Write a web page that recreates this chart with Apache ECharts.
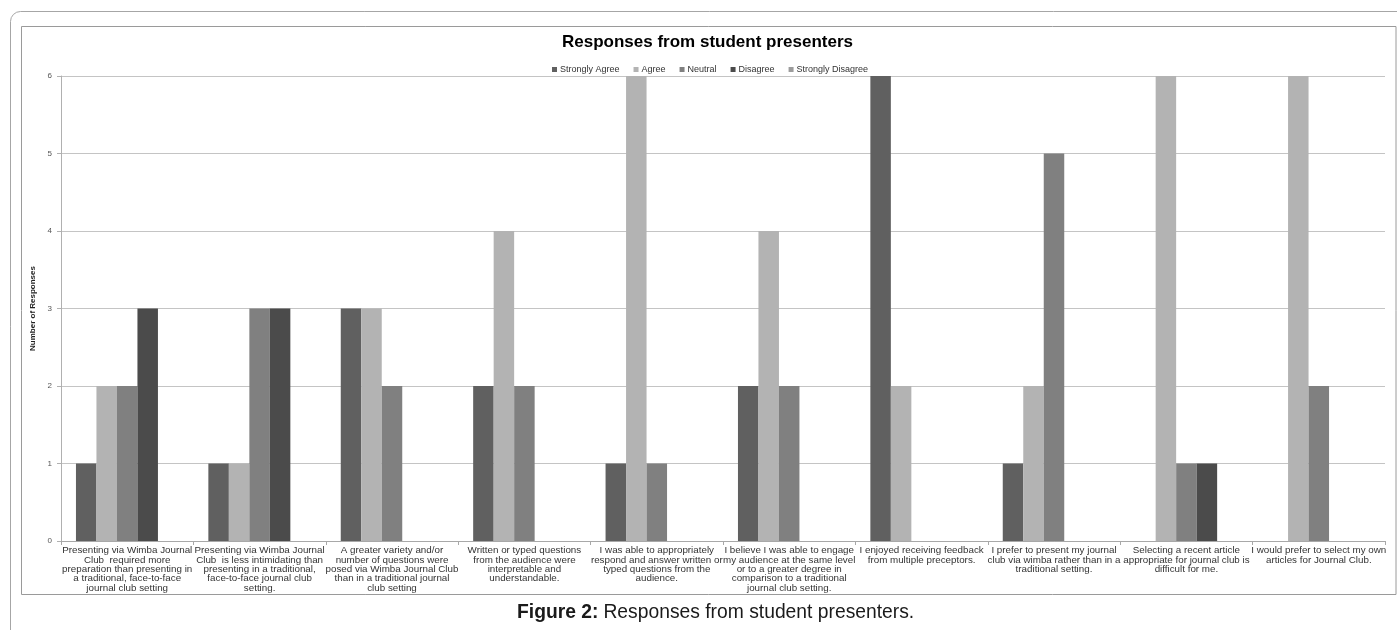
<!DOCTYPE html>
<html>
<head>
<meta charset="utf-8">
<title>Responses from student presenters</title>
<script src="https://cdn.jsdelivr.net/npm/echarts@6/dist/echarts.min.js"></script>
<style>
  html, body { margin: 0; padding: 0; background: #ffffff; }
  #chart { width: 1397px; height: 630px; }
</style>
</head>
<body>
<div id="chart"></div>
<script>
// Survey statements (x-axis categories)
var statements = [
  'Presenting via Wimba Journal\nClub  required more\npreparation than presenting in\na traditional, face-to-face\njournal club setting',
  'Presenting via Wimba Journal\nClub  is less intimidating than\npresenting in a traditional,\nface-to-face journal club\nsetting.',
  'A greater variety and/or\nnumber of questions were\nposed via Wimba Journal Club\nthan in a traditional journal\nclub setting',
  'Written or typed questions\nfrom the audience were\ninterpretable and\nunderstandable.',
  'I was able to appropriately\nrespond and answer written or\ntyped questions from the\naudience.',
  'I believe I was able to engage\nmy audience at the same level\nor to a greater degree in\ncomparison to a traditional\njournal club setting.',
  'I enjoyed receiving feedback\nfrom multiple preceptors.',
  'I prefer to present my journal\nclub via wimba rather than in a\ntraditional setting.',
  'Selecting a recent article\nappropriate for journal club is\ndifficult for me.',
  'I would prefer to select my own\narticles for Journal Club.'
];

// Response counts per statement
var stronglyAgree    = [1, 1, 3, 2, 1, 2, 6, 1, 0, 0];
var agree            = [2, 1, 3, 4, 6, 4, 2, 2, 6, 6];
var neutral          = [2, 3, 2, 2, 1, 2, 0, 5, 1, 2];
var disagree         = [3, 3, 0, 0, 0, 0, 0, 0, 1, 0];
var stronglyDisagree = [0, 0, 0, 0, 0, 0, 0, 0, 0, 0];

var seriesNames = ['Strongly Agree', 'Agree', 'Neutral', 'Disagree', 'Strongly Disagree'];
var seriesData = [stronglyAgree, agree, neutral, disagree, stronglyDisagree];
var seriesColors = ['#606060', '#b3b3b3', '#808080', '#4b4b4b', '#9c9c9c'];

var yTicks = [0, 1, 2, 3, 4, 5, 6];

var FONT = '"Liberation Sans", Arial, sans-serif';

var chart = echarts.init(document.getElementById('chart'), null, { renderer: 'canvas' });

var series = seriesNames.map(function (name, i) {
  return {
    name: name,
    type: 'bar',
    data: seriesData[i],
    barGap: '0%',
    barCategoryGap: '22.6%',
    itemStyle: { color: seriesColors[i] },
    emphasis: { disabled: true }
  };
});

chart.setOption({
  animation: false,
  backgroundColor: '#ffffff',
  textStyle: { fontFamily: FONT },
  title: [
    {
      text: 'Responses from student presenters',
      left: 562,
      top: 34,
      padding: 0,
      textStyle: { fontFamily: FONT, fontSize: 17, fontWeight: 'bold', color: '#000000' }
    },
    {
      text: '{b|Figure 2:} {n|Responses from student presenters.}',
      left: 517,
      top: 603,
      padding: 0,
      textStyle: {
        fontFamily: FONT,
        fontWeight: 'normal',
        rich: {
          b: { fontFamily: FONT, fontSize: 19.3, fontWeight: 'bold', color: '#1a1a1a' },
          n: { fontFamily: FONT, fontSize: 19.3, fontWeight: 'normal', color: '#1a1a1a' }
        }
      }
    }
  ],
  legend: {
    data: seriesNames,
    top: 65,
    left: 552,
    padding: 0,
    itemWidth: 5,
    itemHeight: 5,
    itemGap: 14,
    icon: 'rect',
    textStyle: { fontFamily: FONT, fontSize: 9, color: '#333333', padding: [0, 0, 0, -2] }
  },
  grid: {
    left: 61,
    right: 12,
    top: 76,
    bottom: 89,
    containLabel: false
  },
  xAxis: {
    type: 'category',
    data: statements,
    axisLine: { lineStyle: { color: '#a8a8a8', width: 1 } },
    axisTick: { show: true, length: 4, lineStyle: { color: '#a8a8a8' } },
    axisLabel: {
      interval: 0,
      margin: 5,
      fontFamily: FONT,
      fontSize: 9.8,
      lineHeight: 9.3,
      color: '#333333',
      align: 'center'
    }
  },
  yAxis: {
    type: 'value',
    min: yTicks[0],
    max: yTicks[yTicks.length - 1],
    interval: 1,
    name: 'Number of Responses',
    nameLocation: 'middle',
    nameGap: 16,
    nameRotate: 90,
    nameTextStyle: { fontFamily: FONT, fontSize: 8, fontWeight: 'bold', color: '#222222' },
    axisLine: { show: true, lineStyle: { color: '#b0b0b0', width: 1 } },
    axisTick: { show: true, length: 4, lineStyle: { color: '#b0b0b0' } },
    axisLabel: { fontFamily: FONT, fontSize: 8, color: '#555555', margin: 9 },
    splitLine: { show: true, lineStyle: { color: '#c4c4c4', width: 1 } }
  },
  graphic: [
    {
      type: 'rect',
      silent: true,
      z: -10,
      shape: { x: 10.5, y: 11.5, width: 1500, height: 700, r: 10 },
      style: { fill: 'none', stroke: '#a6a6a6', lineWidth: 1 }
    },
    {
      type: 'rect',
      silent: true,
      z: -10,
      shape: { x: 21.5, y: 26.5, width: 1374.5, height: 568 },
      style: { fill: 'none', stroke: '#9a9a9a', lineWidth: 1 }
    }
  ],
  series: series
});
</script>
</body>
</html>
